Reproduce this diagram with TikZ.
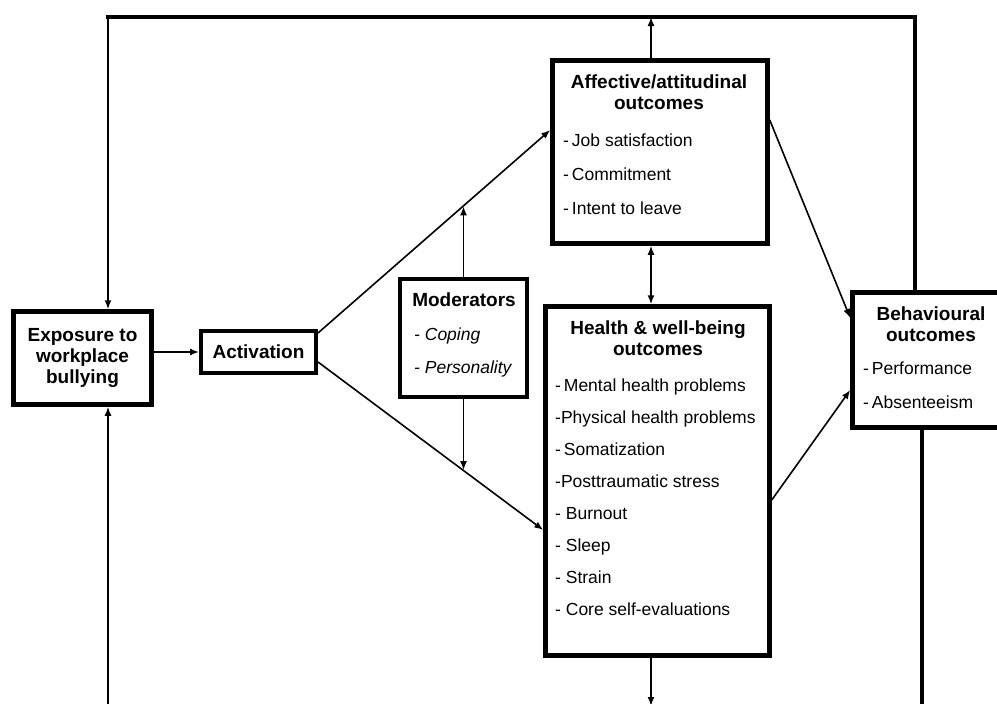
\documentclass[tikz,border=0pt]{standalone}
\usepackage{fontspec}
\setmainfont{Liberation Sans}
\usetikzlibrary{arrows.meta}

\begin{document}
\begin{tikzpicture}[x=1pt,y=-1pt,
    box/.style={draw,line width=4.5pt,inner sep=0pt},
    ttl/.style={font=\fontsize{19}{21}\selectfont\bfseries,align=center,inner sep=0pt},
    items/.style={font=\fontsize{17.5}{34}\selectfont,align=left,anchor=west,inner sep=0pt},
    conn/.style={line width=1.6pt,-{Latex[length=9pt,width=7pt]}},
    fb/.style={line width=4pt,line cap=rect}]
        \useasboundingbox (0,0) rectangle (997,704);
        % 绘制方框
        \node[box,ttl,minimum width=138pt,minimum height=93pt] (expo) at (82.5,358) {Exposure to\\workplace\\bullying};
        \node[box,ttl,line width=4pt,minimum width=115pt,minimum height=42pt] (act) at (258.5,352) {Activation};
        \node[box,line width=4pt,minimum width=127pt,minimum height=118pt] (mod) at (463.5,338) {};
        \node[box,minimum width=215pt,minimum height=183pt] (aff) at (660,152) {};
        \node[box,minimum width=224pt,minimum height=349pt] (heal) at (657.5,481) {};
        \node[box,minimum width=147pt,minimum height=135pt] (beh) at (926,360) {};
        % 方框内文字
        \node[ttl] (modt) at (464,300) {Moderators};
        \node[items,font=\fontsize{17.5}{33}\selectfont\itshape] (modi) at (414,352.5) {- Coping\\- Personality};
        \node[ttl] (afft) at (659,92.5) {Affective/attitudinal\\outcomes};
        \node[items] (affi) at (563,174) {-\,Job satisfaction\\-\,Commitment\\-\,Intent to leave};
        \node[ttl] (healt) at (658,338.5) {Health \& well-being\\outcomes};
        \node[items,font=\fontsize{17.5}{32}\selectfont] (heali) at (555,497) {-\,Mental health problems\\-Physical health problems\\-\,Somatization\\-Posttraumatic stress\\- Burnout\\- Sleep\\- Strain\\- Core self-evaluations};
        \node[ttl] (beht) at (931,324.5) {Behavioural\\outcomes};
        \node[items] (behi) at (863,385) {-\,Performance\\-\,Absenteeism};
        % 反馈回路
        \coordinate (tl) at (108,17);
        \coordinate (tr) at (915,17);
        \coordinate (top) at (651,17);
        \coordinate (bl) at (108,706);
        \coordinate (br) at (922,706);
        \coordinate (hb) at (651,706);
        \draw[fb] (tl) -- (tr) -- (tr |- beh.north);
        \draw[fb] (br |- beh.south) -- (br);
        \draw[conn] (tl) -- (tl |- expo.north);
        \draw[conn] (bl) -- (bl |- expo.south);
        \draw[conn] (top |- aff.north) -- (top);
        \draw[conn] (top |- heal.south) -- (hb);
        \draw[conn,{Latex[length=9pt,width=7pt]}-{Latex[length=9pt,width=7pt]}] (top |- aff.south) -- (top |- heal.north);
        % 绘制箭头
        \draw[conn] (act.west -| expo.east) -- (act.west);
        \draw[conn] ([yshift=19pt]act.east) -- coordinate[pos=0.624] (mu) ([yshift=22pt]aff.west);
        \draw[conn] ([yshift=-10pt]act.east) -- coordinate[pos=0.644] (md) ([yshift=-49pt]heal.west);
        \draw[conn] (mod.north) -- (mod.north |- mu);
        \draw[conn] (mod.south) -- (mod.south |- md);
        \draw[conn] ([yshift=32pt]aff.east) -- ([yshift=42pt]beh.west);
        \draw[conn] ([yshift=-19pt]heal.east) -- ([yshift=-30pt]beh.west);
    \end{tikzpicture}
\end{document}
